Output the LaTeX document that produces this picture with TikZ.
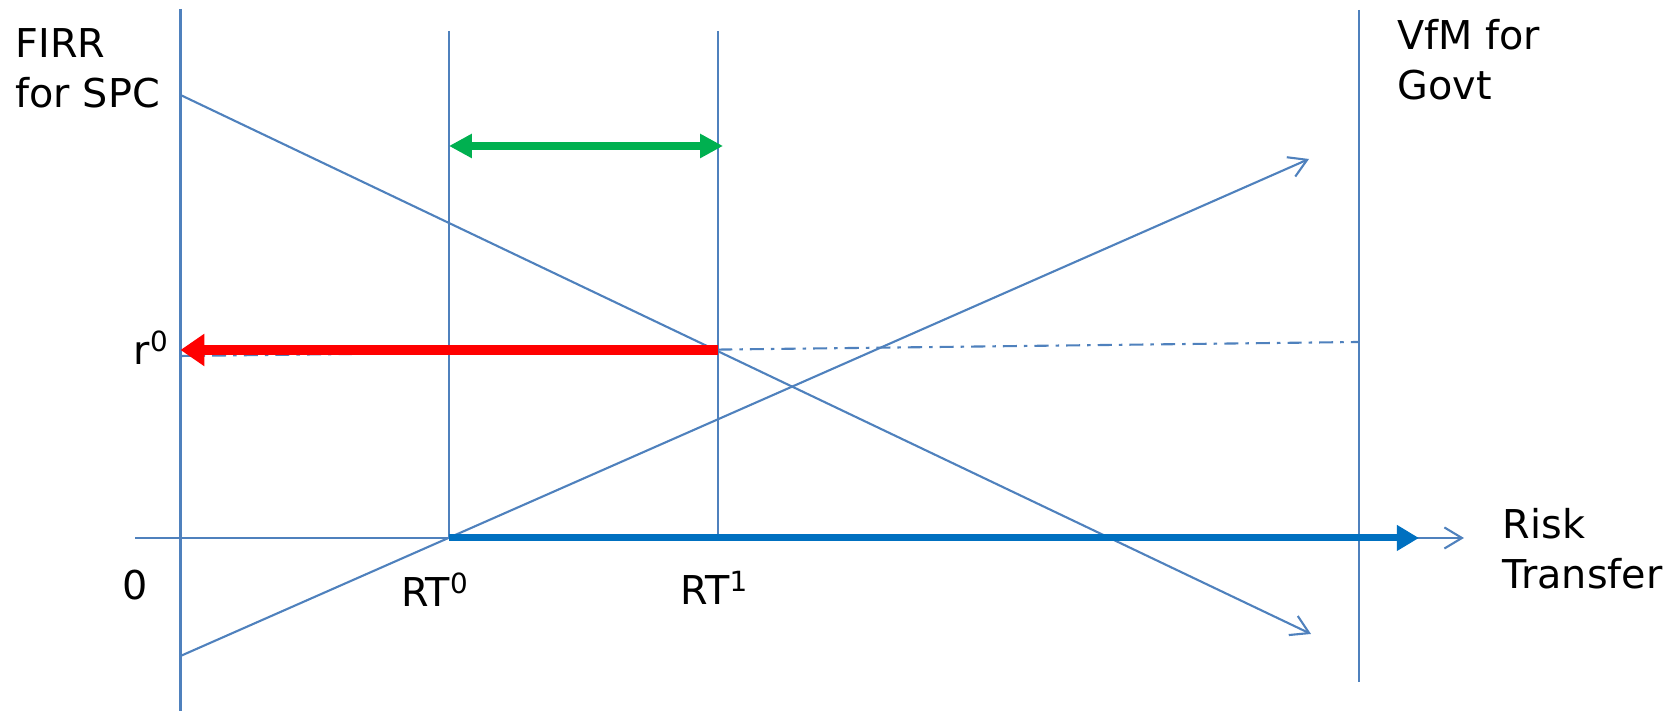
\documentclass[tikz,border=0pt]{standalone}
\usepackage{fontspec}
\setmainfont{DejaVu Sans}
\usepackage{xcolor}
\usetikzlibrary{arrows.meta}
\definecolor{lineblue}{HTML}{4F81BD}
\definecolor{axisblue}{HTML}{0070C0}
\definecolor{rtgreen}{HTML}{00B050}

\begin{document}
\begin{tikzpicture}[
  thinline/.style={draw=lineblue,line width=0.6pt},
  openhead/.style={-{Straight Barb[length=5pt,width=6pt]}},
  lbl/.style={inner sep=0pt,font=\fontsize{11.3}{14.2}\selectfont}
]
  \useasboundingbox (0,0) rectangle (16.70,7.11);
  % end points of the guides
  \coordinate (ytop) at (1.805,7.02);
  \coordinate (ybot) at (1.805,0);
  \coordinate (xleft) at (1.35,1.73);
  \coordinate (xtip) at (14.64,1.73);
  \coordinate (rt0top) at (4.49,6.80);
  \coordinate (rt0) at (4.49,1.73);
  \coordinate (rt1top) at (7.18,6.80);
  \coordinate (rt1) at (7.18,1.73);
  \coordinate (vfmtop) at (13.59,7.01);
  \coordinate (vfmbot) at (13.59,0.29);
  \coordinate (firrstart) at (1.805,6.16);
  \coordinate (firrend) at (13.11,0.77);
  \coordinate (vfmstart) at (1.805,0.55);
  \coordinate (vfmend) at (13.09,5.52);
  \coordinate (r0left) at (1.805,3.55);
  \coordinate (r0) at (7.18,3.61);
  \coordinate (r0right) at (13.59,3.69);
  \coordinate (risktip) at (14.19,1.73);
  \coordinate (gapleft) at (4.49,5.65);
  \coordinate (gapright) at (7.23,5.65);
  % axes and vertical lines
  \draw[thinline] (ytop) -- (ybot);
  \draw[thinline,openhead] (xleft) -- (xtip);
  \draw[thinline] (rt0top) -- (rt0);
  \draw[thinline] (rt1top) -- (rt1);
  \draw[thinline] (vfmtop) -- (vfmbot);
  % the two curves
  \draw[thinline,openhead] (firrstart) -- (firrend);
  \draw[thinline,openhead] (vfmstart) -- (vfmend);
  \draw[thinline,dash pattern=on 4pt off 2pt on 1pt off 2pt] (r0left) -- (r0right);
  % thick arrows
  \draw[axisblue,line width=2pt,-{Triangle[length=6.3pt,width=7pt]}] (rt0) -- (risktip);
  \draw[red,line width=2.8pt,-{Triangle[length=6.8pt,width=8.8pt]}] (r0) -- (r0left |- r0);
  \draw[rtgreen,line width=2.3pt,{Triangle[length=6.5pt,width=6.5pt]}-{Triangle[length=6.5pt,width=6.5pt]}] (gapleft) -- (gapright);
  % labels
  \node[lbl,anchor=north west,align=left] (firr) at (0.15,6.83) {FIRR\\for SPC};
  \node[lbl,anchor=north west,align=left] (vfm) at (13.97,6.92) {VfM for\\Govt};
  \node[lbl,anchor=north west,align=left] (risk) at (15.02,2.03) {Risk\\Transfer};
  \node[lbl,anchor=base west] (zero) at (1.22,1.11) {0};
  \node[lbl,anchor=base west] (rzero) at (1.33,3.46) {r\textsuperscript{0}};
  \node[lbl,anchor=base west] (rtzero) at (4.005,1.04) {RT\textsuperscript{0}};
  \node[lbl,anchor=base west] (rtone) at (6.80,1.06) {RT\textsuperscript{1}};
\end{tikzpicture}
\end{document}
